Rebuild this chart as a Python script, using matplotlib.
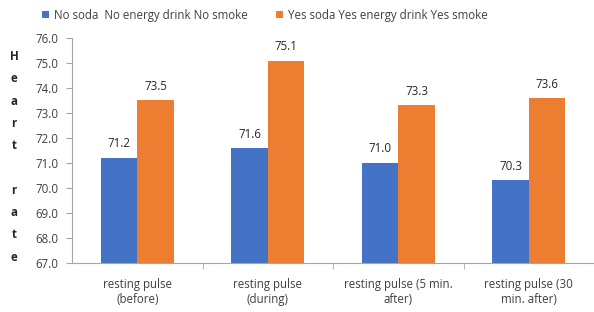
import numpy as np
import matplotlib.pyplot as plt

plt.rcParams['font.family'] = ['Open Sans', 'DejaVu Sans']

# datos
categorias = ['resting pulse\n(before)', 'resting pulse\n(during)',
              'resting pulse (5 min.\nafter)', 'resting pulse (30\nmin. after)']
no_soda = [71.2, 71.6, 71.0, 70.3]
si_soda = [73.5, 75.1, 73.3, 73.6]
series = ['No soda  No energy drink No smoke', 'Yes soda Yes energy drink Yes smoke']
azul = '#4472C4'
naranja = '#ED7D31'

fig = plt.figure(figsize=(5.94, 3.12), dpi=100)
ax = fig.add_axes([72 / 594, 49 / 312, 522 / 594, 225 / 312])

x = np.arange(len(categorias))
ancho = 0.28
b1 = ax.bar(x - ancho / 2, no_soda, ancho, color=azul, label=series[0], zorder=2)
b2 = ax.bar(x + ancho / 2, si_soda, ancho, color=naranja, label=series[1], zorder=2)

# etiquetas de valor
for barras, vals in [(b1, no_soda), (b2, si_soda)]:
    for r, v in zip(barras, vals):
        ax.text(r.get_x() + r.get_width() / 2, v + 0.3, f'{v:.1f}',
                ha='center', va='bottom', fontsize=8.3, color='#262626')

ax.set_ylim(67, 76)
ax.set_yticks(np.arange(67, 76.1, 1))
ax.set_yticklabels([f'{v:.1f}' for v in np.arange(67, 76.1, 1)], fontsize=8.3, color='#404040')
ax.set_xlim(-0.5, 3.5)
ax.set_xticks(x)
ax.set_xticklabels(categorias, fontsize=8.3, color='#404040')
ax.tick_params(axis='x', length=0, pad=11)
ax.set_xticks([0.5, 1.5, 2.5], minor=True)
ax.tick_params(axis='x', which='minor', length=4, color='#A6A6A6')
ax.tick_params(axis='y', length=4, color='#A6A6A6', pad=6)

for s in ['top', 'right']:
    ax.spines[s].set_visible(False)
for s in ['left', 'bottom']:
    ax.spines[s].set_color('#A6A6A6')

# etiqueta vertical
fig.text(14 / 594, 1 - 50 / 312, 'H\ne\na\nr\nt\n\nr\na\nt\ne', ha='center', va='top',
         fontsize=8.3, fontweight='bold', linespacing=1.93, color='#262626')

fig.legend(handles=[b1, b2], labels=series, loc='upper left', bbox_to_anchor=(32 / 594, 1.005),
           ncol=2, frameon=False, fontsize=8.3, handlelength=0.6, handleheight=0.6,
           columnspacing=2.5, handletextpad=0.4, labelcolor='#404040')

fig.savefig('out.png', dpi=100)
